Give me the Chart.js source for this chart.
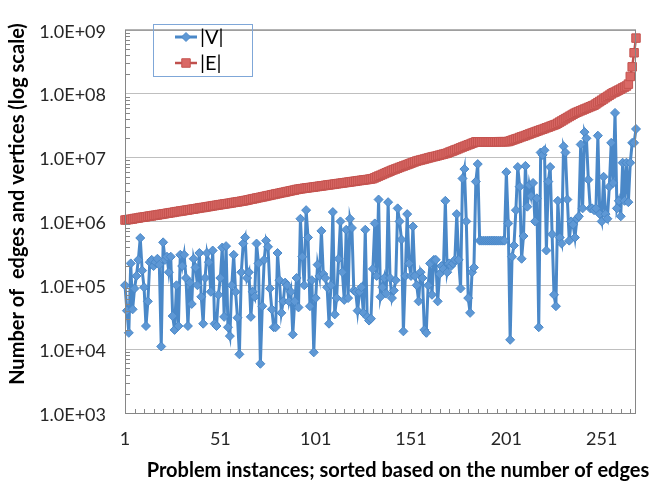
<!DOCTYPE html>
<html>
<head>
<meta charset="utf-8">
<script src="https://cdn.jsdelivr.net/npm/chart.js@4.4.1/dist/chart.umd.min.js"></script>
<style>
  html, body { margin: 0; padding: 0; background: #fff; }
</style>
</head>
<body>
<canvas id="chart" width="651" height="485"></canvas>
<script>
// instances 1..269, sorted by edge count
const instanceCount = 269;
const instances = Array.from({ length: instanceCount }, (_, i) => String(i + 1));
const xTickLabels = ['1', '51', '101', '151', '201', '251'];
const yTickValues = [1e3, 1e4, 1e5, 1e6, 1e7, 1e8, 1e9];
const seriesNames = ['|V|', '|E|'];
const xTitle = 'Problem instances; sorted based on the number of edges';
const yTitle = 'Number of  edges and vertices (log scale)';

const vertices = [
  1.0e5, 4.0e4, 1.8e4, 2.2e5, 4.2e4, 8.9e4, 1.4e5, 2.5e5, 5.5e5, 1.7e5,
  9.3e4, 2.3e4, 5.6e4, 2.3e5, 2.5e5, 2.0e5, 2.3e5, 2.6e5, 2.1e5, 1.1e4,
  4.7e5, 2.5e5, 2.8e5, 1.6e5, 2.8e5, 3.3e4, 2.0e4, 1.0e5, 2.3e4, 3.0e5,
  2.0e5, 3.0e5, 1.3e5, 2.3e4, 1.1e5, 5.1e4, 2.6e5, 1.9e5, 1.0e5, 3.2e5,
  6.6e4, 2.5e4, 1.3e5, 3.2e5, 2.3e5, 7.9e4, 3.5e5, 2.5e4, 2.3e4, 7.1e4,
  1.3e5, 3.9e5, 3.2e4, 4.1e5, 2.2e4, 1.6e4, 1.0e5, 3.0e5, 7.9e4, 3.1e4,
  8.3e3, 1.6e5, 4.5e5, 5.6e5, 1.3e5, 1.6e5, 3.2e4, 7.9e4, 6.6e4, 4.5e5,
  2.2e5, 5.9e3, 4.7e4, 2.5e5, 5.0e5, 4.0e5, 8.9e4, 4.2e4, 2.2e4, 2.2e4,
  3.2e5, 1.2e5, 3.7e4, 5.6e4, 1.1e5, 1.0e5, 5.6e4, 7.9e4, 1.7e4, 5.6e4,
  1.3e5, 4.5e4, 1.1e6, 2.8e5, 1.0e5, 1.5e6, 5.6e5, 4.7e4, 1.2e5, 8.9e3,
  6.3e4, 2.1e5, 1.4e5, 7.1e5, 1.5e5, 1.3e5, 9.3e4, 2.5e4, 1.0e5, 1.4e6,
  3.5e4, 6.3e4, 2.6e5, 1.0e6, 1.6e5, 5.9e4, 7.4e5, 6.3e4, 1.1e6, 7.9e5,
  8.3e4, 7.9e4, 4.0e4, 7.9e4, 9.3e4, 3.7e4, 7.4e5, 3.2e4, 2.8e4, 3.0e4,
  1.8e5, 9.3e5, 1.4e5, 2.2e6, 6.6e4, 9.3e4, 1.3e5, 7.4e4, 2.0e6, 1.3e5,
  6.3e4, 8.3e4, 1.2e5, 1.6e6, 1.0e6, 5.2e5, 1.9e4, 1.4e5, 1.3e6, 2.2e5,
  1.4e5, 8.3e5, 1.4e5, 1.0e5, 5.6e4, 1.6e5, 1.3e5, 2.0e4, 1.8e4, 1.0e5,
  2.2e5, 7.1e4, 2.5e5, 2.5e5, 5.6e4, 1.5e5, 2.0e5, 1.8e5, 2.1e6, 1.6e5,
  2.2e5, 2.0e5, 2.2e5, 2.5e5, 1.3e6, 2.5e5, 8.9e4, 4.7e6, 6.6e6, 1.0e6,
  6.3e4, 3.7e4, 1.6e5, 1.9e5, 4.2e6, 7.9e6, 5.0e5, 5.0e5, 5.0e5, 5.0e5,
  5.0e5, 5.0e5, 5.0e5, 5.0e5, 5.0e5, 5.0e5, 5.0e5, 5.0e5, 5.0e5, 5.0e5,
  5.9e6, 9.3e5, 1.4e4, 2.8e5, 4.2e5, 1.5e6, 7.1e6, 3.5e6, 2.6e5, 5.9e5,
  7.4e6, 1.7e6, 3.7e6, 2.5e6, 4.0e6, 1.0e6, 2.3e6, 2.2e4, 1.2e7, 1.1e7,
  1.3e7, 3.5e5, 4.2e6, 7.1e6, 6.3e5, 7.1e4, 4.7e4, 2.1e6, 5.6e5, 4.5e5,
  1.5e7, 1.2e7, 2.2e6, 5.0e5, 1.0e6, 8.9e5, 5.6e5, 1.1e6, 1.2e6, 1.6e7,
  1.6e6, 2.5e7, 2.0e7, 4.5e6, 1.6e6, 1.6e6, 1.5e6, 1.6e6, 2.2e7, 1.3e6,
  1.0e6, 5.0e6, 1.3e6, 1.1e6, 3.5e6, 1.7e7, 4.0e6, 5.0e7, 1.6e6, 2.1e6,
  1.2e6, 8.3e6, 2.1e6, 8.3e6, 2.0e6, 8.3e6, 1.7e7, 1.7e7, 2.8e7
];

const edges = [
  1.05e6, 1.06e6, 1.07e6, 1.08e6, 1.09e6, 1.11e6, 1.12e6, 1.13e6, 1.15e6, 1.16e6,
  1.17e6, 1.18e6, 1.20e6, 1.21e6, 1.22e6, 1.24e6, 1.25e6, 1.26e6, 1.28e6, 1.29e6,
  1.31e6, 1.32e6, 1.34e6, 1.35e6, 1.37e6, 1.38e6, 1.40e6, 1.42e6, 1.43e6, 1.45e6,
  1.46e6, 1.48e6, 1.50e6, 1.51e6, 1.53e6, 1.55e6, 1.56e6, 1.58e6, 1.60e6, 1.62e6,
  1.64e6, 1.65e6, 1.67e6, 1.69e6, 1.71e6, 1.73e6, 1.75e6, 1.77e6, 1.79e6, 1.81e6,
  1.83e6, 1.85e6, 1.87e6, 1.89e6, 1.91e6, 1.93e6, 1.95e6, 1.98e6, 2.00e6, 2.02e6,
  2.04e6, 2.07e6, 2.09e6, 2.12e6, 2.15e6, 2.18e6, 2.22e6, 2.25e6, 2.28e6, 2.32e6,
  2.35e6, 2.38e6, 2.42e6, 2.45e6, 2.49e6, 2.53e6, 2.56e6, 2.61e6, 2.64e6, 2.69e6,
  2.72e6, 2.76e6, 2.81e6, 2.84e6, 2.88e6, 2.93e6, 2.97e6, 3.02e6, 3.06e6, 3.10e6,
  3.16e6, 3.20e6, 3.23e6, 3.26e6, 3.30e6, 3.33e6, 3.36e6, 3.39e6, 3.42e6, 3.45e6,
  3.49e6, 3.52e6, 3.56e6, 3.59e6, 3.62e6, 3.66e6, 3.70e6, 3.73e6, 3.77e6, 3.80e6,
  3.84e6, 3.88e6, 3.92e6, 3.95e6, 3.99e6, 4.03e6, 4.07e6, 4.11e6, 4.15e6, 4.19e6,
  4.23e6, 4.27e6, 4.32e6, 4.36e6, 4.40e6, 4.44e6, 4.48e6, 4.52e6, 4.57e6, 4.62e6,
  4.68e6, 4.82e6, 4.97e6, 5.12e6, 5.27e6, 5.43e6, 5.60e6, 5.77e6, 5.94e6, 6.12e6,
  6.31e6, 6.47e6, 6.64e6, 6.82e6, 7.00e6, 7.18e6, 7.36e6, 7.55e6, 7.74e6, 7.94e6,
  8.17e6, 8.38e6, 8.59e6, 8.81e6, 8.97e6, 9.14e6, 9.29e6, 9.46e6, 9.64e6, 9.82e6,
  1.00e7, 1.02e7, 1.035e7, 1.05e7, 1.07e7, 1.09e7, 1.11e7, 1.13e7, 1.15e7, 1.17e7,
  1.21e7, 1.24e7, 1.27e7, 1.31e7, 1.34e7, 1.38e7, 1.42e7, 1.46e7, 1.50e7, 1.54e7,
  1.58e7, 1.62e7, 1.67e7, 1.71e7, 1.76e7, 1.76e7, 1.76e7, 1.76e7, 1.76e7, 1.76e7,
  1.76e7, 1.76e7, 1.76e7, 1.76e7, 1.76e7, 1.76e7, 1.77e7, 1.77e7, 1.77e7, 1.77e7,
  1.77e7, 1.78e7, 1.82e7, 1.87e7, 1.91e7, 1.96e7, 2.00e7, 2.06e7, 2.11e7, 2.16e7,
  2.21e7, 2.27e7, 2.33e7, 2.39e7, 2.45e7, 2.51e7, 2.58e7, 2.64e7, 2.71e7, 2.77e7,
  2.84e7, 2.92e7, 2.99e7, 3.07e7, 3.15e7, 3.23e7, 3.31e7, 3.45e7, 3.59e7, 3.74e7,
  3.89e7, 4.06e7, 4.22e7, 4.40e7, 4.57e7, 4.76e7, 4.95e7, 5.11e7, 5.25e7, 5.41e7,
  5.56e7, 5.73e7, 5.89e7, 6.07e7, 6.24e7, 6.43e7, 6.61e7, 6.90e7, 7.23e7, 7.55e7,
  7.91e7, 8.26e7, 8.65e7, 9.04e7, 9.46e7, 9.89e7, 1.03e8, 1.06e8, 1.10e8, 1.14e8,
  1.18e8, 1.23e8, 1.27e8, 1.32e8, 1.41e8, 1.86e8, 2.63e8, 4.37e8, 7.41e8
];

const FONT = 'Lato, "Open Sans", sans-serif';
const AXIS_COLOR = '#868686';

function sciLabel(v) {
  const e = Math.round(Math.log10(v));
  return '1.0E+' + String(e).padStart(2, '0');
}

// frame, minor tick marks, axis titles and the in-plot legend
const decorations = {
  id: 'decorations',
  afterDraw(chart) {
    const { ctx, chartArea: a, scales } = chart;
    ctx.save();

    ctx.strokeStyle = AXIS_COLOR;
    ctx.lineWidth = 1;
    ctx.strokeRect(a.left + 0.5, a.top + 0.5, a.right - a.left - 1, a.bottom - a.top);

    ctx.beginPath();
    for (let k = 3; k < 9; k++) {
      for (let m = 2; m <= 9; m++) {
        const y = Math.round(scales.y.getPixelForValue(m * Math.pow(10, k))) + 0.5;
        ctx.moveTo(a.left, y);
        ctx.lineTo(a.left + 5, y);
      }
    }
    for (let i = 0; i < instances.length; i += 5) {
      const x = Math.round(scales.x.getPixelForValue(i)) + 0.5;
      ctx.moveTo(x, a.bottom);
      ctx.lineTo(x, a.bottom - 4);
    }
    ctx.stroke();

    ctx.fillStyle = '#000';
    ctx.font = 'bold 20px ' + FONT;
    ctx.textAlign = 'center';
    ctx.textBaseline = 'middle';
    ctx.fillText(xTitle, 398, 471);
    ctx.translate(18, 204);
    ctx.rotate(-Math.PI / 2);
    ctx.fillText(yTitle, 0, 0);
    ctx.setTransform(1, 0, 0, 1, 0, 0);

    // legend box
    ctx.strokeStyle = '#7FA7D8';
    ctx.lineWidth = 1;
    ctx.strokeRect(153.5, 24.5, 99, 52);
    const rows = [37, 63];
    chart.data.datasets.forEach((ds, i) => {
      const y = rows[i];
      ctx.strokeStyle = ds.borderColor;
      ctx.lineWidth = ds.borderWidth;
      ctx.beginPath();
      ctx.moveTo(175, y);
      ctx.lineTo(197, y);
      ctx.stroke();
      ctx.fillStyle = ds.pointBackgroundColor;
      ctx.strokeStyle = ds.pointBorderColor;
      ctx.lineWidth = ds.pointBorderWidth;
      Chart.helpers.drawPoint(ctx, { pointStyle: ds.pointStyle, radius: ds.pointRadius, rotation: 0, borderWidth: ds.pointBorderWidth }, 186, y);
      ctx.fillStyle = '#000';
      ctx.font = '20px ' + FONT;
      ctx.textAlign = 'left';
      ctx.fillText(ds.label, 200, y + 1);
    });
    ctx.restore();
  }
};

new Chart(document.getElementById('chart'), {
  type: 'line',
  data: {
    labels: instances,
    datasets: [
      {
        label: seriesNames[0],
        data: vertices,
        borderColor: '#4A88C8',
        borderWidth: 3,
        pointStyle: 'rectRot',
        pointRadius: 4.5,
        pointBackgroundColor: '#5E98D5',
        pointBorderColor: '#4A88C8',
        pointBorderWidth: 1,
        tension: 0,
        order: 1
      },
      {
        label: seriesNames[1],
        data: edges,
        borderColor: '#C0504D',
        borderWidth: 2.5,
        pointStyle: 'rect',
        pointRadius: 6,
        pointBackgroundColor: '#DA6966',
        pointBorderColor: '#C4534F',
        pointBorderWidth: 1,
        tension: 0,
        order: 0
      }
    ]
  },
  options: {
    responsive: false,
    animation: false,
    devicePixelRatio: 1,
    layout: { padding: { top: 13, right: 10, left: 0, bottom: 0 } },
    plugins: { legend: { display: false }, tooltip: { enabled: false } },
    scales: {
      x: {
        type: 'category',
        offset: false,
        grid: { display: false, drawTicks: false },
        border: { display: false },
        ticks: {
          autoSkip: false,
          maxRotation: 0,
          padding: 15,
          color: '#262626',
          font: { family: FONT, size: 18 },
          callback(value) {
            const label = this.getLabelForValue(value);
            return xTickLabels.includes(label) ? label : '';
          }
        },
        afterFit(scale) { scale.height = 72; }
      },
      y: {
        type: 'logarithmic',
        min: 1e3,
        max: 1e9,
        afterBuildTicks(scale) {
          scale.ticks = yTickValues.map(v => ({ value: v }));
        },
        grid: { color: '#BFBFBF', drawTicks: false },
        border: { display: false },
        ticks: {
          padding: 19,
          labelOffset: 2,
          color: '#262626',
          font: { family: FONT, size: 18 },
          callback: v => sciLabel(v)
        },
        afterFit(scale) { scale.width = 125; }
      }
    }
  },
  plugins: [decorations]
});
</script>
</body>
</html>
